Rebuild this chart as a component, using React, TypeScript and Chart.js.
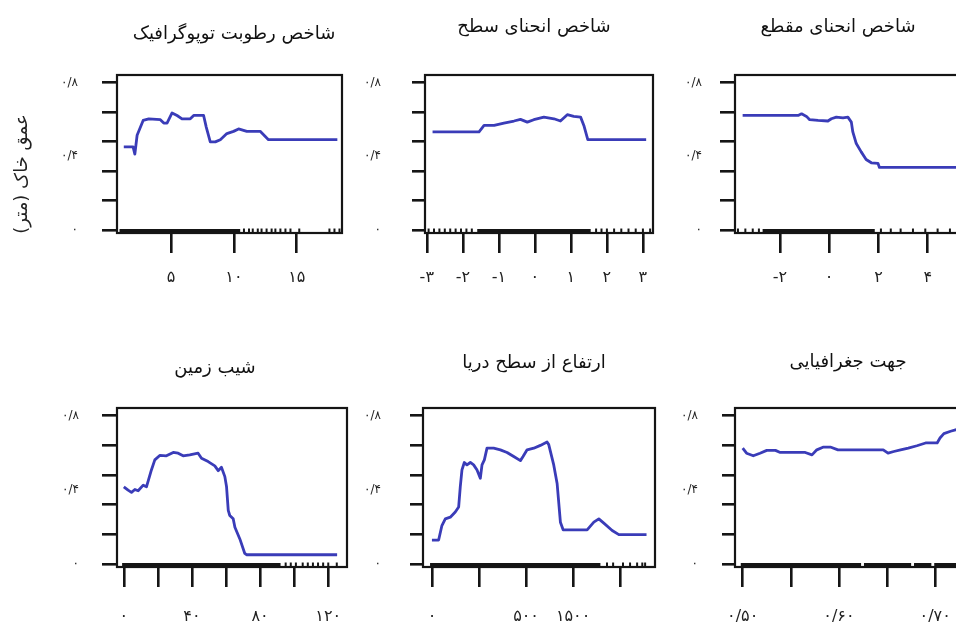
import React, { useEffect, useRef } from 'react';
import { Chart, registerables } from 'chart.js';

Chart.register(...registerables);

const FONT = '"DejaVu Sans", "Noto Sans", sans-serif';
const LINE_COLOR = '#3a3cb8';
const INK = '#151515';

// shared y axis
const yTickMarks = [0, 0.16, 0.32, 0.48, 0.64, 0.8];
const yLabelValues = [0, 0.4, 0.8];
const yLabelTexts = ['۰', '۰/۴', '۰/۸'];
const yAxisTitle = 'عمق خاک (متر)\u200F';
const yMin = -0.015;
const yMax = 0.84;
const rugY = -0.007;

// 1. topographic wetness index
const twiTitle = 'شاخص رطوبت توپوگرافیک';
const twiX = [1.24, 1.98, 2.12, 2.3, 2.78, 3.23, 4.15, 4.42, 4.68, 5.08, 5.48, 5.87, 6.53, 6.8, 7.59, 7.8, 8.12, 8.52, 8.92, 9.44, 9.97, 10.37, 11.03, 12.09, 12.75, 18.23];
const twiY = [0.451, 0.451, 0.412, 0.514, 0.594, 0.603, 0.598, 0.58, 0.58, 0.635, 0.621, 0.603, 0.603, 0.621, 0.621, 0.558, 0.478, 0.478, 0.49, 0.523, 0.535, 0.548, 0.535, 0.535, 0.49, 0.49];
const twiTicks = [5, 10, 15];
const twiTickLabels = ['۵', '۱۰', '۱۵'];
const twiRugRuns = [[0.9, 10.5]];
const twiRugTicks = [10.8, 11.2, 11.5, 11.9, 12.2, 12.6, 13.0, 13.3, 13.7, 14.1, 14.5, 15.2, 17.6, 18.0, 18.4];

// 2. surface curvature index
const curvTitle = 'شاخص انحنای سطح';
const curvX = [-2.84, -1.55, -1.41, -1.13, -0.86, -0.58, -0.4, -0.21, -0.03, 0.25, 0.53, 0.71, 0.9, 1.08, 1.27, 1.36, 1.47, 3.09];
const curvY = [0.532, 0.532, 0.567, 0.567, 0.58, 0.591, 0.6, 0.585, 0.598, 0.612, 0.603, 0.591, 0.625, 0.616, 0.612, 0.567, 0.49, 0.49];
const curvTicks = [-3, -2, -1, 0, 1, 2, 3];
const curvTickLabels = ['-۳', '-۲', '-۱', '۰', '۱', '۲', '۳'];
const curvRugRuns = [[-1.6, 1.55]];
const curvRugTicks = [-2.95, -2.8, -2.65, -2.5, -2.35, -2.2, -2.05, -1.9, -1.75, 1.7, 1.85, 2.0, 2.2, 2.4, 2.6, 2.8, 3.0, 3.2];

// 3. profile curvature index
const profTitle = 'شاخص انحنای مقطع';
const profX = [-3.51, -1.26, -1.12, -0.92, -0.79, -0.45, -0.05, 0.09, 0.29, 0.56, 0.76, 0.9, 0.96, 1.1, 1.3, 1.5, 1.71, 1.98, 2.04, 5.3];
const profY = [0.621, 0.621, 0.63, 0.616, 0.598, 0.594, 0.591, 0.603, 0.612, 0.608, 0.612, 0.585, 0.532, 0.469, 0.424, 0.383, 0.365, 0.362, 0.34, 0.34];
const profTicks = [-2, 0, 2, 4];
const profTickLabels = ['-۲', '۰', '۲', '۴'];
const profRugRuns = [[-2.7, 1.85]];
const profRugTicks = [-3.7, -3.4, -3.1, -2.85, 2.1, 2.5, 2.9, 3.4, 3.9, 4.4, 4.9, 5.3];

// 4. slope
const slopeTitle = 'شیب زمین';
const slopeX = [0, 2.5, 4.5, 6.5, 8.4, 11.4, 13.3, 16.2, 18.2, 21.1, 25.0, 29.0, 31.9, 34.8, 38.7, 43.6, 45.6, 49.5, 53.4, 55.4, 57.3, 59.3, 60.3, 61.3, 62.2, 64.2, 65.2, 68.1, 71.0, 72.0, 125.2];
const slopeY = [0.416, 0.398, 0.386, 0.402, 0.395, 0.425, 0.416, 0.507, 0.561, 0.585, 0.583, 0.601, 0.597, 0.583, 0.588, 0.597, 0.57, 0.552, 0.529, 0.503, 0.521, 0.471, 0.416, 0.29, 0.262, 0.244, 0.199, 0.136, 0.058, 0.051, 0.051];
const slopeTicks = [0, 20, 40, 60, 80, 100, 120];
const slopeTickLabels = ['۰', '', '۴۰', '', '۸۰', '', '۱۲۰'];
const slopeRugRuns = [[-1, 92]];
const slopeRugTicks = [95, 98, 101, 105, 108, 111, 114, 117, 120, 125];

// 5. elevation above sea level
const elevTitle = 'ارتفاع از سطح دریا';
const elevX = [0, 71, 106, 142, 195, 248, 284, 301, 319, 344, 372, 408, 443, 479, 514, 532, 557, 585, 656, 727, 798, 869, 940, 968, 1011, 1082, 1152, 1223, 1241, 1294, 1330, 1365, 1394, 1507, 1649, 1720, 1773, 1826, 1915, 1986, 2280];
const elevY = [0.13, 0.13, 0.208, 0.244, 0.253, 0.281, 0.308, 0.416, 0.507, 0.547, 0.534, 0.547, 0.534, 0.507, 0.462, 0.534, 0.561, 0.624, 0.624, 0.615, 0.601, 0.579, 0.557, 0.579, 0.615, 0.624, 0.639, 0.657, 0.643, 0.534, 0.434, 0.226, 0.185, 0.185, 0.185, 0.226, 0.244, 0.221, 0.181, 0.159, 0.159];
const elevTicks = [0, 500, 1000, 1500, 2000];
const elevTickLabels = ['۰', '', '۵۰۰', '۱۵۰۰', ''];
const elevRugRuns = [[-20, 1790]];
const elevRugTicks = [1860, 1925, 2030, 2105, 2180, 2235, 2265];

// 6. aspect
const aspectTitle = 'جهت جغرافیایی';
const aspectX = [0.5, 0.504, 0.511, 0.518, 0.525, 0.534, 0.539, 0.553, 0.565, 0.572, 0.577, 0.584, 0.591, 0.599, 0.615, 0.636, 0.646, 0.651, 0.657, 0.664, 0.672, 0.681, 0.69, 0.702, 0.705, 0.709, 0.716, 0.722, 0.729];
const aspectY = [0.624, 0.597, 0.583, 0.597, 0.612, 0.612, 0.601, 0.601, 0.601, 0.588, 0.615, 0.63, 0.63, 0.615, 0.615, 0.615, 0.615, 0.597, 0.606, 0.615, 0.624, 0.637, 0.652, 0.652, 0.679, 0.702, 0.715, 0.724, 0.73];
const aspectTicks = [0.5, 0.55, 0.6, 0.65, 0.7];
const aspectTickLabels = ['۰/۵۰', '', '۰/۶۰', '', '۰/۷۰'];
const aspectRugRuns = [[0.498, 0.623], [0.626, 0.675], [0.678, 0.696], [0.699, 0.735]];
const aspectRugTicks: number[] = [];

type Box = {
  cl: number; cw: number; ct: number; ch: number;
  L: number; R: number; T: number; B: number;
  titleY: number; yTick: number; yPad: number; xLabelY: number; yLabel?: boolean;
};
type Spec = {
  title: string; xs: number[]; ys: number[]; ticks: number[]; tickLabels: string[];
  rugRuns: number[][]; rugTicks: number[]; xMin: number; xMax: number; box: Box;
};

const panels: Spec[] = [
  { title: twiTitle, xs: twiX, ys: twiY, ticks: twiTicks, tickLabels: twiTickLabels, rugRuns: twiRugRuns, rugTicks: twiRugTicks, xMin: 0.7, xMax: 18.6,
    box: { cl: 0, cw: 468, ct: 0, ch: 348, L: 117, R: 342, T: 75, B: 233, titleY: 34, yTick: 15, yPad: 24, xLabelY: 278, yLabel: true } },
  { title: curvTitle, xs: curvX, ys: curvY, ticks: curvTicks, tickLabels: curvTickLabels, rugRuns: curvRugRuns, rugTicks: curvRugTicks, xMin: -3.05, xMax: 3.28,
    box: { cl: 350, cw: 368, ct: 0, ch: 300, L: 425, R: 653, T: 75, B: 233, titleY: 27, yTick: 13, yPad: 31, xLabelY: 278 } },
  { title: profTitle, xs: profX, ys: profY, ticks: profTicks, tickLabels: profTickLabels, rugRuns: profRugRuns, rugTicks: profRugTicks, xMin: -3.82, xMax: 5.43,
    box: { cl: 670, cw: 336, ct: 0, ch: 300, L: 735, R: 963, T: 75, B: 233, titleY: 27, yTick: 15, yPad: 18, xLabelY: 278 } },
  { title: slopeTitle, xs: slopeX, ys: slopeY, ticks: slopeTicks, tickLabels: slopeTickLabels, rugRuns: slopeRugRuns, rugTicks: slopeRugTicks, xMin: -4, xMax: 131,
    box: { cl: 0, cw: 430, ct: 310, ch: 323, L: 117, R: 347, T: 408, B: 567, titleY: 368, yTick: 15, yPad: 23, xLabelY: 617 } },
  { title: elevTitle, xs: elevX, ys: elevY, ticks: elevTicks, tickLabels: elevTickLabels, rugRuns: elevRugRuns, rugTicks: elevRugTicks, xMin: -95, xMax: 2370,
    box: { cl: 350, cw: 368, ct: 310, ch: 323, L: 423, R: 655, T: 408, B: 567, titleY: 363, yTick: 13, yPad: 29, xLabelY: 617 } },
  { title: aspectTitle, xs: aspectX, ys: aspectY, ticks: aspectTicks, tickLabels: aspectTickLabels, rugRuns: aspectRugRuns, rugTicks: aspectRugTicks, xMin: 0.492, xMax: 0.732,
    box: { cl: 665, cw: 366, ct: 310, ch: 323, L: 735, R: 966, T: 408, B: 567, titleY: 362, yTick: 13, yPad: 24, xLabelY: 617 } },
];

const framePlugin = {
  id: 'rframe',
  afterDatasetsDraw(chart: any) {
    const { ctx, chartArea: a } = chart;
    ctx.save();
    ctx.strokeStyle = INK;
    ctx.lineWidth = 2.2;
    ctx.strokeRect(a.left, a.top, a.right - a.left, a.bottom - a.top);
    ctx.restore();
  },
};

function Panel({ spec }: { spec: Spec }) {
  const ref = useRef<HTMLCanvasElement>(null);
  useEffect(() => {
    const canvas = ref.current;
    if (!canvas) return;
    const b = spec.box;
    const titleSize = 18;
    const titleLH = titleSize * 1.2;
    const tPadTop = b.titleY - b.ct - titleLH / 2;
    const tPadBottom = b.T - b.ct - tPadTop - titleLH;
    const subSize = 18;
    const subLH = subSize * 1.2;
    const subPadTop = 22 - b.cl - subLH / 2;
    const subPadBottom = 8;
    const subW = b.yLabel ? subPadTop + subLH + subPadBottom : 0;
    const xTickSize = 16;
    const xTickLen = 20;
    const xPad = b.xLabelY - b.B - xTickLen - (xTickSize * 1.2) / 2;
    const yAll = Array.from(new Set([...yTickMarks, ...yLabelValues])).sort((p, q) => p - q);

    const datasets: any[] = [];
    spec.rugRuns.forEach((r) => {
      datasets.push({
        data: [{ x: r[0], y: rugY }, { x: r[1], y: rugY }],
        borderColor: INK, borderWidth: 5, pointRadius: 0, borderCapStyle: 'butt',
      });
    });
    if (spec.rugTicks.length) {
      datasets.push({
        data: spec.rugTicks.map((x) => ({ x, y: rugY })),
        showLine: false, pointStyle: 'line', pointRotation: 90, pointRadius: 3,
        pointBorderColor: INK, pointBackgroundColor: INK, pointBorderWidth: 2,
      });
    }
    datasets.push({
      data: spec.xs.map((x, i) => ({ x, y: spec.ys[i] })),
      borderColor: LINE_COLOR, borderWidth: 2.8, pointRadius: 0, tension: 0,
      borderJoinStyle: 'round',
    });

    const chart = new Chart(canvas, {
      type: 'line',
      data: { datasets },
      plugins: [framePlugin],
      options: {
        animation: false,
        responsive: false,
        events: [],
        layout: { padding: 0 },
        plugins: {
          legend: { display: false },
          tooltip: { enabled: false },
          title: {
            display: true, text: spec.title, fullSize: true, color: '#111',
            font: { family: FONT, size: titleSize, weight: 'normal', lineHeight: 1.2 },
            padding: { top: tPadTop, bottom: tPadBottom },
          },
          subtitle: {
            display: !!b.yLabel, text: yAxisTitle, position: 'left', fullSize: true, color: '#222',
            font: { family: FONT, size: subSize, weight: 'normal', lineHeight: 1.2 },
            padding: { top: subPadTop, bottom: subPadBottom },
          },
        },
        scales: {
          x: {
            type: 'linear', position: 'bottom', min: spec.xMin, max: spec.xMax, bounds: 'data',
            afterBuildTicks: (s: any) => { s.ticks = spec.ticks.map((v) => ({ value: v })); },
            afterFit: (s: any) => { s.height = b.ct + b.ch - b.B; },
            border: { display: false },
            grid: { drawOnChartArea: false, drawTicks: true, tickLength: xTickLen, tickWidth: 2.6, tickColor: INK, color: INK, lineWidth: 2.6 },
            ticks: {
              autoSkip: false, maxRotation: 0, minRotation: 0, padding: xPad, color: '#222',
              font: { family: FONT, size: xTickSize },
              callback: (v: any) => { const i = spec.ticks.indexOf(Number(v)); return i >= 0 ? spec.tickLabels[i] : ''; },
            },
          },
          y: {
            type: 'linear', position: 'left', min: yMin, max: yMax, bounds: 'data',
            afterBuildTicks: (s: any) => { s.ticks = yAll.map((v) => ({ value: v })); },
            afterFit: (s: any) => { s.width = b.L - b.cl - subW; },
            border: { display: false },
            grid: {
              drawOnChartArea: false, drawTicks: true, tickLength: b.yTick, tickWidth: 2.6, lineWidth: 2.6,
              tickColor: (ctx: any) => (ctx.tick && yTickMarks.indexOf(ctx.tick.value) >= 0 ? INK : 'rgba(0,0,0,0)'),
              color: (ctx: any) => (ctx.tick && yTickMarks.indexOf(ctx.tick.value) >= 0 ? INK : 'rgba(0,0,0,0)'),
            },
            ticks: {
              autoSkip: false, padding: b.yPad, color: '#222',
              font: { family: FONT, size: 12 },
              callback: (v: any) => { const i = yLabelValues.indexOf(Number(v)); return i >= 0 ? yLabelTexts[i] : ''; },
            },
          },
          yR: {
            type: 'linear', position: 'right', min: yMin, max: yMax,
            afterFit: (s: any) => { s.width = b.cl + b.cw - b.R; },
            border: { display: false },
            grid: { display: false, drawTicks: false },
            ticks: { display: false },
          },
        },
      } as any,
    });
    return () => chart.destroy();
  }, [spec]);

  const b = spec.box;
  return (
    <canvas
      ref={ref}
      width={b.cw}
      height={b.ch}
      style={{ position: 'absolute', left: b.cl, top: b.ct, width: b.cw, height: b.ch }}
    />
  );
}

export default function App() {
  return (
    <div style={{ position: 'fixed', left: 0, top: 0, width: 956, height: 633, overflow: 'hidden', background: '#fff' }}>
      {panels.map((p, i) => (
        <Panel key={i} spec={p} />
      ))}
    </div>
  );
}
